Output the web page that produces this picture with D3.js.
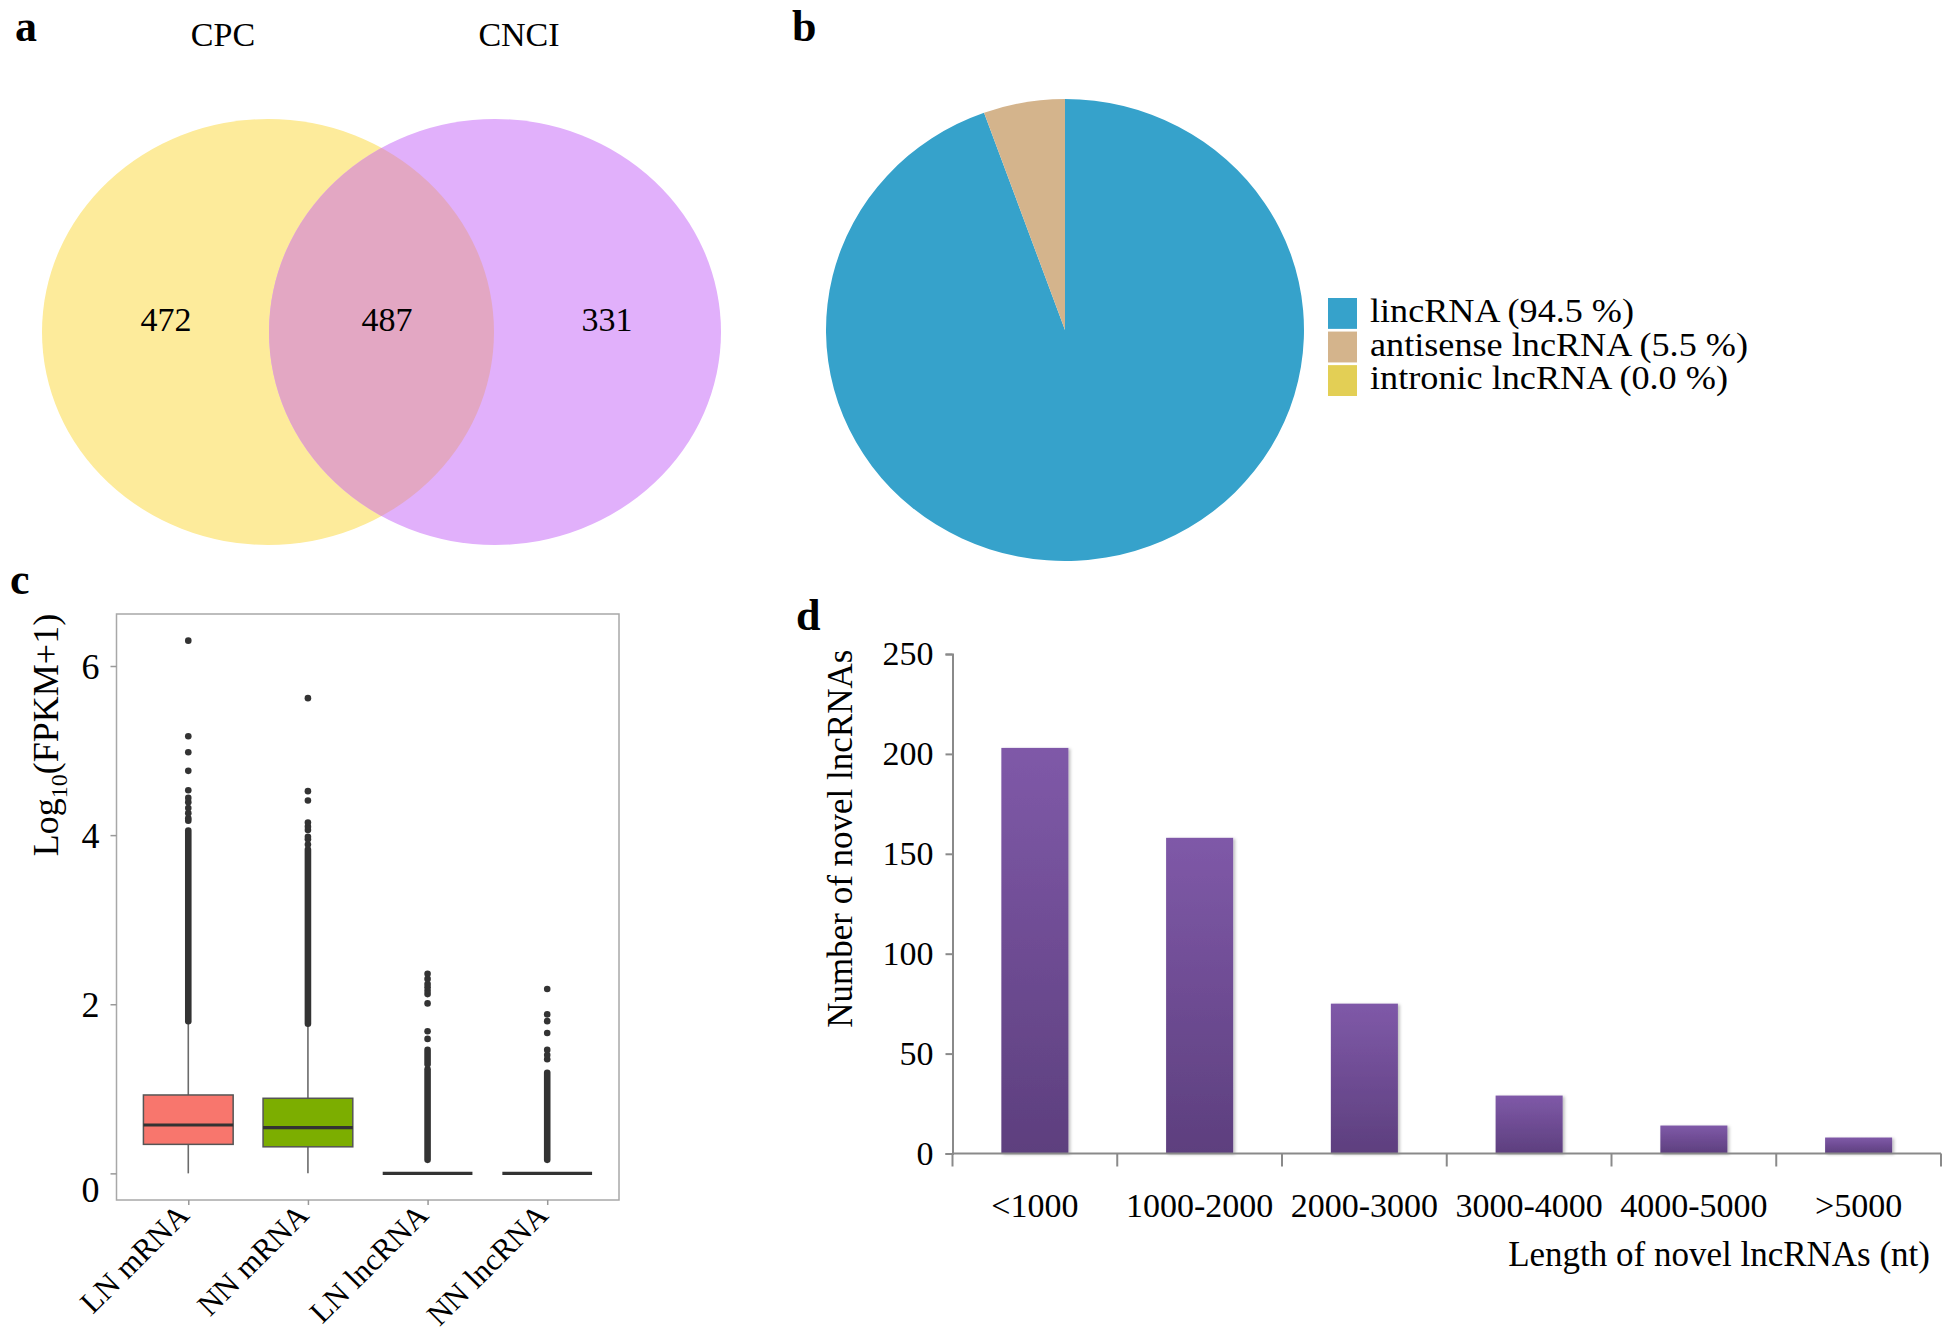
<!DOCTYPE html>
<html><head><meta charset="utf-8">
<script src="https://cdn.jsdelivr.net/npm/d3@7"></script>
<style>
body{margin:0;background:#fff}
svg{display:block}
text{font-family:"Liberation Serif","Times New Roman",serif;fill:#000}
</style>
</head><body>
<svg id="fig" width="1946" height="1331"></svg>
<script>
// ---------- Panel a: Venn ----------
const vennSets = ["CPC", "CNCI"];
const vennCounts = [472, 487, 331]; // CPC only, both, CNCI only

// ---------- Panel b: pie ----------
const pieLabels = ["lincRNA", "antisense lncRNA", "intronic lncRNA"];
const piePercents = [94.5, 5.5, 0.0];

// ---------- Panel c: boxplot ----------
const boxCategories = ["LN mRNA", "NN mRNA", "LN lncRNA", "NN lncRNA"];
const boxQ1 = [0.343, 0.314, 0, 0];
const boxMedian = [0.572, 0.540, 0, 0];
const boxQ3 = [0.927, 0.888, 0, 0];
const whiskerLow = [0, 0, 0, 0];
const whiskerHigh = [1.78, 1.745, 0, 0];
// dense (overlapping) outlier columns, as [from, to]
const outlierRuns = [
  [[1.80, 4.055]],
  [[1.77, 3.83]],
  [[0.16, 1.23], [1.29, 1.46]],
  [[0.16, 1.19]]
];
// isolated outliers
const outlierPoints = [
  [4.17, 4.20, 4.26, 4.32, 4.39, 4.44, 4.53, 4.76, 4.98, 5.17, 6.30],
  [3.89, 3.95, 3.98, 4.06, 4.10, 4.15, 4.41, 4.52, 5.62],
  [1.59, 1.68, 2.01, 2.12, 2.16, 2.20, 2.24, 2.30, 2.36],
  [1.35, 1.40, 1.46, 1.66, 1.80, 1.88, 2.18]
];
const boxTicks = [0, 2, 4, 6];

// ---------- Panel d: bars ----------
const lengthBins = ["<1000", "1000-2000", "2000-3000", "3000-4000", "4000-5000", ">5000"];
const lengthCounts = [203, 158, 75, 29, 14, 8];
const countTicks = [0, 50, 100, 150, 200, 250];

const svg = d3.select("#fig");
const defs = svg.append("defs");

// panel letters
[["a", 15, 41], ["b", 792, 41], ["c", 10, 594], ["d", 796, 630]].forEach(([t, x, y]) => {
  svg.append("text").attr("x", x).attr("y", y).attr("font-size", 44)
    .attr("font-weight", "bold").text(t);
});

// ===== Panel a =====
{
  const rx = 226, ry = 213, cy = 332;
  const cx = d3.scaleOrdinal().domain(vennSets).range([268, 495]);
  const fills = {CPC: "#FDEB9B", CNCI: "#E1B0FB"};
  defs.append("clipPath").attr("id", "clipRight")
    .append("ellipse").attr("cx", cx("CNCI")).attr("cy", cy).attr("rx", rx).attr("ry", ry);
  const g = svg.append("g");
  g.selectAll("ellipse.set").data(vennSets).join("ellipse")
    .attr("class", "set").attr("cx", d => cx(d)).attr("cy", cy).attr("rx", rx).attr("ry", ry)
    .attr("fill", d => fills[d]);
  g.append("ellipse").attr("cx", cx("CPC")).attr("cy", cy).attr("rx", rx).attr("ry", ry)
    .attr("clip-path", "url(#clipRight)").attr("fill", "#E3A7C3");
  g.selectAll("text.setlab").data(vennSets).join("text")
    .attr("class", "setlab").attr("x", (d, i) => [223, 519][i]).attr("y", 46)
    .attr("text-anchor", "middle").attr("font-size", 34).text(d => d);
  g.selectAll("text.cnt").data(vennCounts).join("text")
    .attr("class", "cnt").attr("x", (d, i) => [166, 387, 607][i]).attr("y", 331)
    .attr("text-anchor", "middle").attr("font-size", 34).text(d => d);
}

// ===== Panel b =====
{
  const rx = 239, ry = 231, cx = 1065, cy = 330;
  const color = d3.scaleOrdinal().domain(pieLabels).range(["#36A2CB", "#D4B48C", "#E3CF55"]);
  const pie = d3.pie().sort(null).value(d => d.v);
  const arcs = pie(pieLabels.map((l, i) => ({l, v: piePercents[i]})));
  const arc = d3.arc().innerRadius(0).outerRadius(rx);
  svg.append("g").attr("transform", `translate(${cx},${cy}) scale(1,${ry / rx})`)
    .selectAll("path").data(arcs).join("path")
    .attr("d", arc).attr("fill", d => color(d.data.l));
  const lg = svg.append("g").attr("transform", "translate(1328,298)");
  const row = d3.scaleBand().domain(pieLabels).range([0, 98]).paddingInner(0.08);
  lg.selectAll("rect").data(pieLabels).join("rect")
    .attr("x", 0).attr("y", d => row(d)).attr("width", 29).attr("height", row.bandwidth())
    .attr("fill", d => color(d));
  lg.selectAll("text").data(pieLabels).join("text")
    .attr("x", 42).attr("y", d => row(d) + 24).attr("font-size", 33.5)
    .attr("textLength", (d, i) => [264, 378, 358][i]).attr("lengthAdjust", "spacingAndGlyphs")
    .text((d, i) => `${d} (${piePercents[i].toFixed(1)} %)`);
}

// ===== Panel c =====
{
  const left = 116.5, right = 619, top = 614, bottom = 1200;
  const x = d3.scalePoint().domain(boxCategories).range([left, right]).padding(0.6);
  const y = d3.scaleLinear().domain([-0.315, 6.615]).range([bottom, top]);
  const bw = x.step() * 0.75;
  const fills = ["#F8766D", "#7CAE00", "#00BFC4", "#C77CFF"];
  const g = svg.append("g");
  g.append("rect").attr("x", left).attr("y", top).attr("width", right - left).attr("height", bottom - top)
    .attr("fill", "none").attr("stroke", "#A8A8A8").attr("stroke-width", 1.5);

  const ax = g.append("g").attr("transform", `translate(${left},0)`)
    .call(d3.axisLeft(y).tickValues(boxTicks).tickSize(6).tickPadding(11).tickFormat(d3.format("d")));
  ax.select(".domain").remove();
  ax.selectAll(".tick line").attr("stroke", "#999").attr("stroke-width", 1.5);
  ax.selectAll(".tick text").attr("font-size", 36).attr("font-family", "Liberation Serif")
    .attr("dy", d => d === 0 ? "0.78em" : "0.34em");

  const bx = g.append("g").attr("transform", `translate(0,${bottom})`)
    .call(d3.axisBottom(x).tickSize(5).tickPadding(0));
  bx.select(".domain").remove();
  bx.selectAll(".tick line").attr("stroke", "#999").attr("stroke-width", 1.5);
  bx.selectAll(".tick text").attr("font-size", 31).attr("font-family", "Liberation Serif")
    .attr("text-anchor", "end").attr("dy", 0).attr("y", 0)
    .attr("transform", "translate(2,17) rotate(-45)");

  boxCategories.forEach((c, i) => {
    const cx = x(c);
    // whiskers
    g.append("line").attr("x1", cx).attr("x2", cx).attr("y1", y(whiskerLow[i])).attr("y2", y(boxQ1[i]))
      .attr("stroke", "#6b6b6b").attr("stroke-width", 1.6);
    g.append("line").attr("x1", cx).attr("x2", cx).attr("y1", y(boxQ3[i])).attr("y2", y(whiskerHigh[i]))
      .attr("stroke", "#6b6b6b").attr("stroke-width", 1.6);
    // box
    if (boxQ3[i] > boxQ1[i]) {
      g.append("rect").attr("x", cx - bw / 2).attr("width", bw)
        .attr("y", y(boxQ3[i])).attr("height", y(boxQ1[i]) - y(boxQ3[i]))
        .attr("fill", fills[i]).attr("stroke", "#555").attr("stroke-width", 1.5);
    }
    g.append("line").attr("x1", cx - bw / 2).attr("x2", cx + bw / 2)
      .attr("y1", y(boxMedian[i])).attr("y2", y(boxMedian[i]))
      .attr("stroke", "#333").attr("stroke-width", 3.2);
    // outliers
    g.selectAll(null).data(outlierRuns[i]).join("line")
      .attr("x1", cx).attr("x2", cx).attr("y1", d => y(d[0])).attr("y2", d => y(d[1]))
      .attr("stroke", "#333").attr("stroke-width", 6.6).attr("stroke-linecap", "round");
    g.selectAll(null).data(outlierPoints[i]).join("circle")
      .attr("cx", cx).attr("cy", d => y(d)).attr("r", 3.3).attr("fill", "#333");
  });

  const yl = g.append("text").attr("transform", "translate(58,735) rotate(-90)")
    .attr("text-anchor", "middle").attr("font-size", 36);
  yl.append("tspan").text("Log");
  yl.append("tspan").attr("font-size", 24).attr("dy", 9).text("10");
  yl.append("tspan").attr("dy", -9).text("(FPKM+1)");
}

// ===== Panel d =====
{
  const left = 952.5, right = 1941, bottom = 1153.5, top = 654;
  const x = d3.scaleBand().domain(lengthBins).range([left, right]).paddingInner(0.593).paddingOuter(0.2965);
  const y = d3.scaleLinear().domain([0, 250]).range([bottom, top]);
  const grad = defs.append("linearGradient").attr("id", "barGrad")
    .attr("x1", 0).attr("y1", 0).attr("x2", 0).attr("y2", 1);
  grad.append("stop").attr("offset", "0%").attr("stop-color", "#7F59A8");
  grad.append("stop").attr("offset", "100%").attr("stop-color", "#5D3F7E");
  const f = defs.append("filter").attr("id", "shadow").attr("x", "-20%").attr("y", "-20%")
    .attr("width", "140%").attr("height", "140%");
  f.append("feDropShadow").attr("dx", 2).attr("dy", 1).attr("stdDeviation", 1.5)
    .attr("flood-color", "#000").attr("flood-opacity", 0.25);

  const g = svg.append("g");
  g.selectAll("rect.bar").data(lengthBins).join("rect").attr("class", "bar")
    .attr("x", d => x(d)).attr("width", x.bandwidth())
    .attr("y", (d, i) => y(lengthCounts[i])).attr("height", (d, i) => bottom - y(lengthCounts[i]))
    .attr("fill", "url(#barGrad)").attr("filter", "url(#shadow)");

  const ay = g.append("g").attr("transform", `translate(${left},0)`)
    .call(d3.axisLeft(y).tickValues(countTicks).tickSize(7).tickPadding(12));
  ay.select(".domain").attr("stroke", "#8a8a8a").attr("stroke-width", 2);
  ay.selectAll(".tick line").attr("stroke", "#8a8a8a").attr("stroke-width", 2);
  ay.selectAll(".tick text").attr("font-size", 34).attr("font-family", "Liberation Serif");

  const ax = g.append("g").attr("transform", `translate(0,${bottom})`)
    .call(d3.axisBottom(x).tickSize(0).tickPadding(39));
  ax.select(".domain").remove();
  ax.selectAll(".tick text").attr("font-size", 34).attr("font-family", "Liberation Serif");
  g.append("line").attr("x1", left).attr("x2", right).attr("y1", bottom).attr("y2", bottom)
    .attr("stroke", "#8a8a8a").attr("stroke-width", 2);
  const bounds = lengthBins.map(d => x(d) - (x.step() - x.bandwidth()) / 2).concat([right]);
  g.selectAll("line.btick").data(bounds).join("line").attr("class", "btick")
    .attr("x1", d => d).attr("x2", d => d).attr("y1", bottom).attr("y2", bottom + 13)
    .attr("stroke", "#8a8a8a").attr("stroke-width", 2);

  g.append("text").attr("transform", `translate(852,${(top + bottom) / 2 - 65}) rotate(-90)`)
    .attr("text-anchor", "middle").attr("font-size", 35).text("Number of novel lncRNAs");
  g.append("text").attr("x", 1930).attr("y", 1266).attr("text-anchor", "end")
    .attr("font-size", 35).text("Length of novel lncRNAs (nt)");
}
</script>
</body></html>
